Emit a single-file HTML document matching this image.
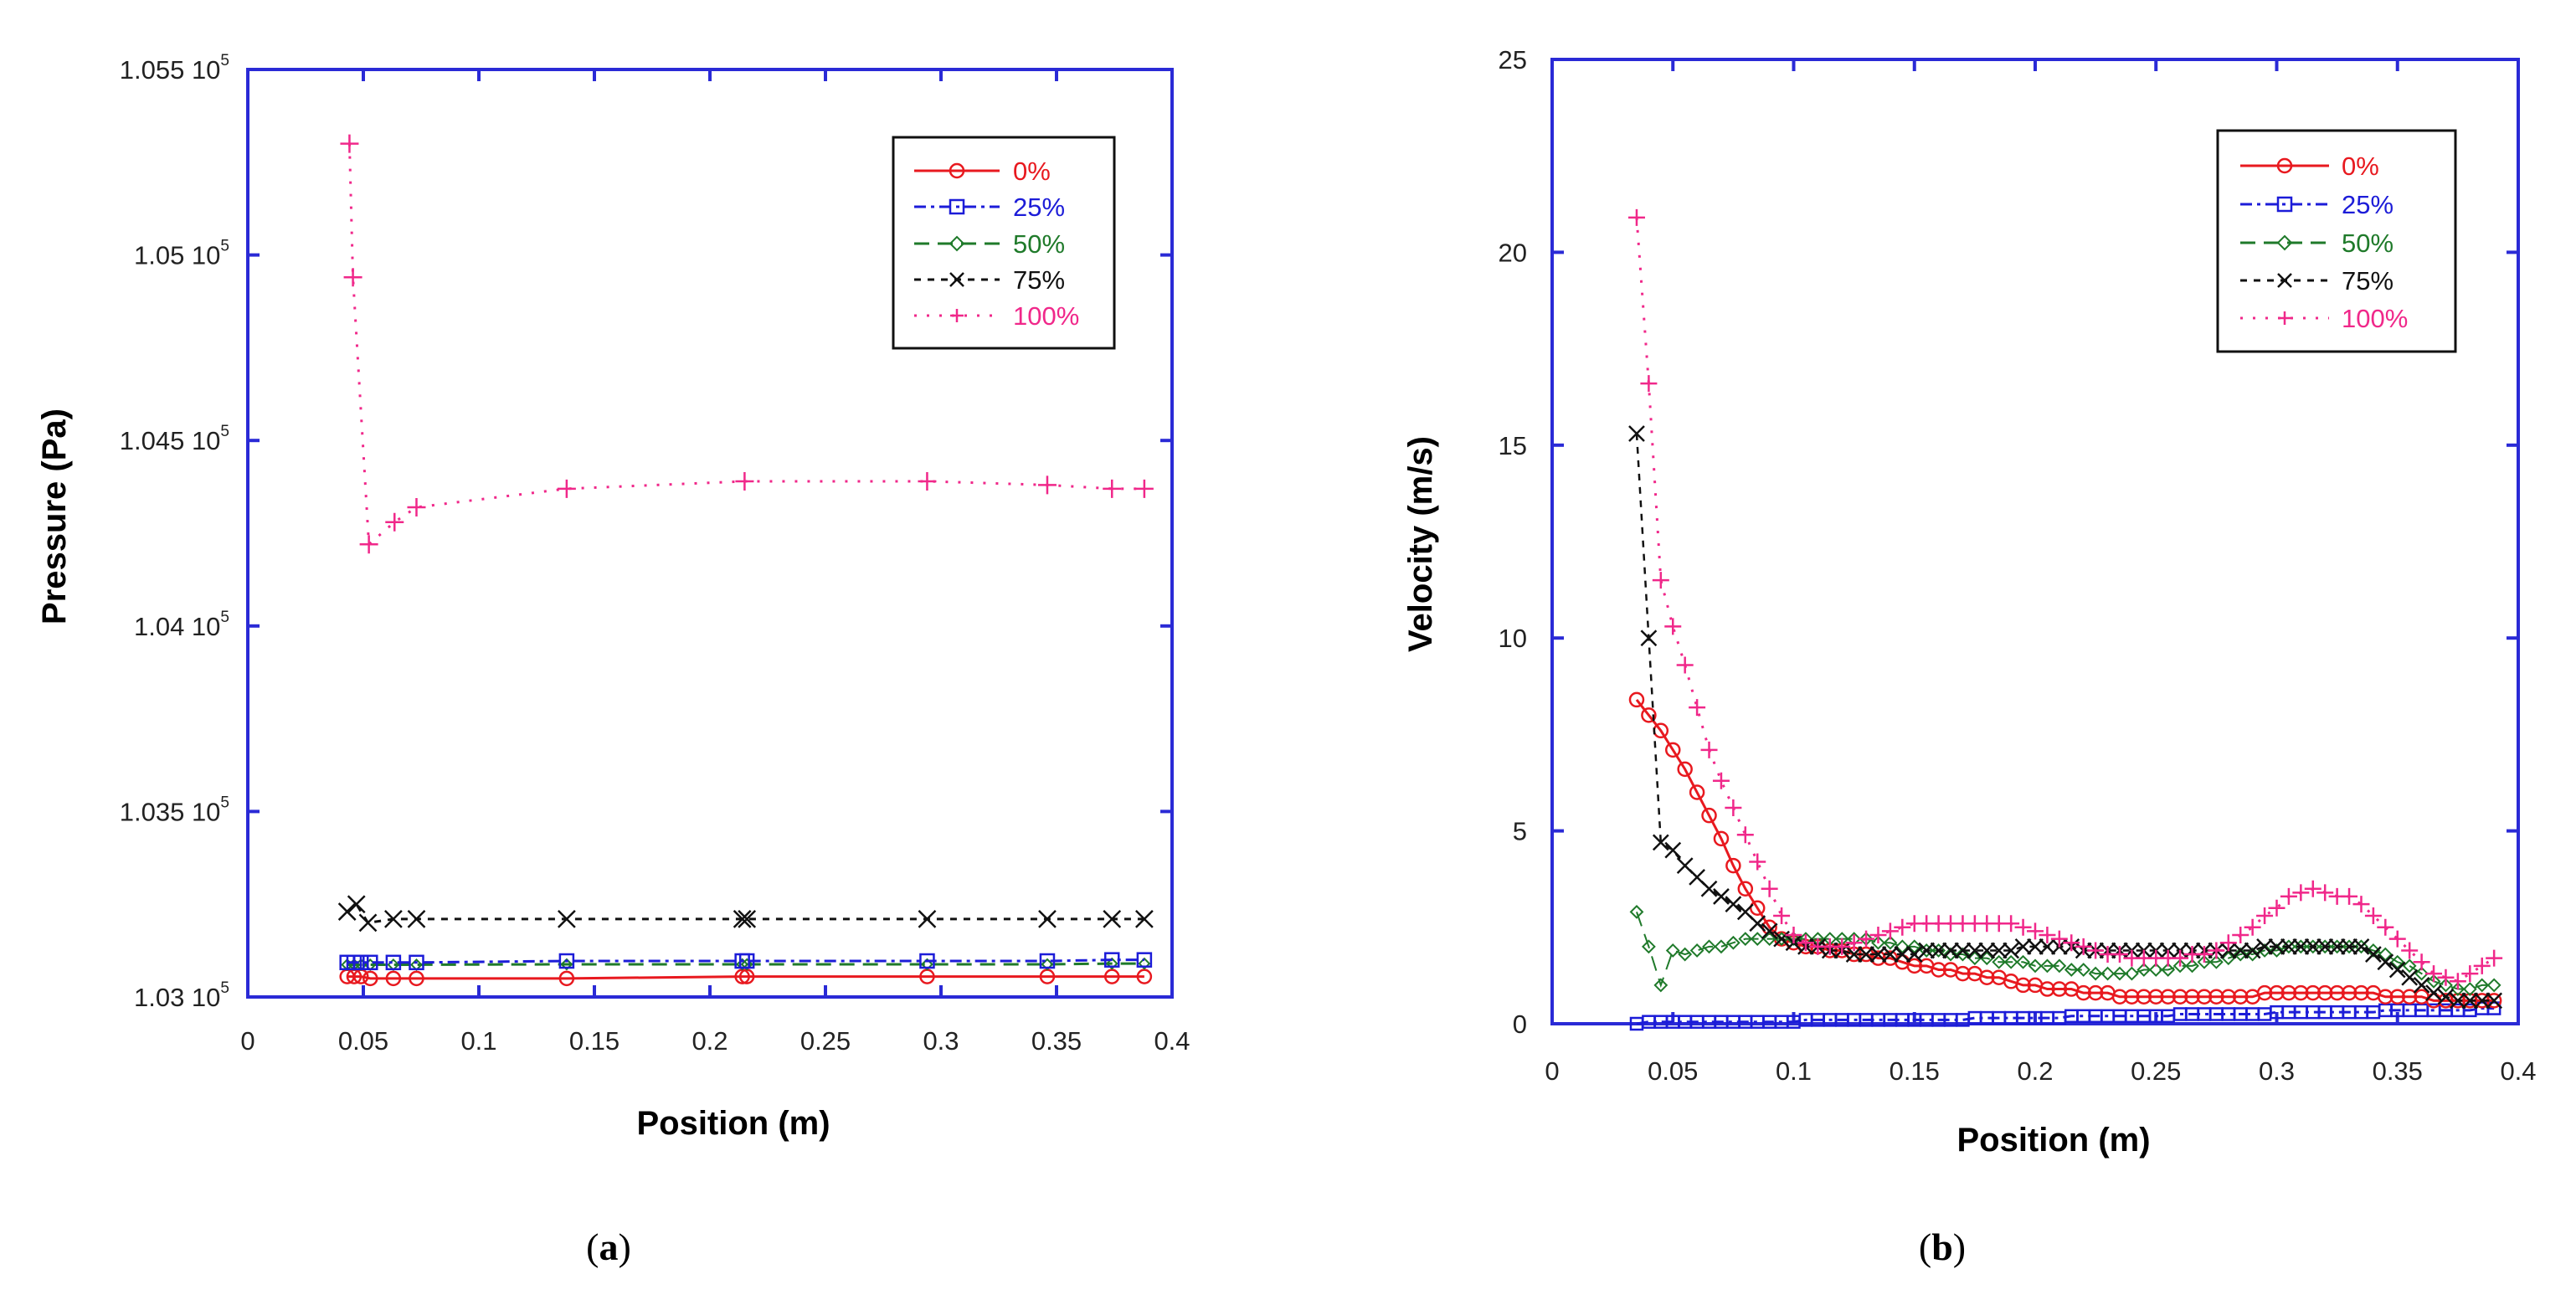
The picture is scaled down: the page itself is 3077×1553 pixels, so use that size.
<!DOCTYPE html>
<html><head><meta charset="utf-8"><style>
html,body{margin:0;padding:0;background:#fff;}
svg{display:block;font-family:"Liberation Sans",Arial,sans-serif;}
</style></head><body>
<svg id="fig" width="3077" height="1553" viewBox="0 0 3077 1553" xmlns="http://www.w3.org/2000/svg">
<g id="chartA"></g>
<g id="chartB"></g>
<text x="727" y="1505" font-family="Liberation Serif,serif" font-size="46" text-anchor="middle">(<tspan font-weight="bold">a</tspan>)</text>
<text x="2320" y="1505" font-family="Liberation Serif,serif" font-size="46" text-anchor="middle">(<tspan font-weight="bold">b</tspan>)</text>
</svg>
<script>
// ---------- Chart A data (pressure, units of 1e5 Pa) ----------
const aTicksX = [0,0.05,0.1,0.15,0.2,0.25,0.3,0.35,0.4];
const aTickLabelsX = ["0","0.05","0.1","0.15","0.2","0.25","0.3","0.35","0.4"];
const aTicksY = [1.03,1.035,1.04,1.045,1.05,1.055];
const aTickLabelsY = ["1.03","1.035","1.04","1.045","1.05","1.055"];
const aX100 = [0.044,0.0455,0.0524,0.0635,0.073,0.138,0.215,0.294,0.346,0.374,0.388];
const aY100 = [1.0530,1.0494,1.0422,1.0428,1.0432,1.0437,1.0439,1.0439,1.0438,1.0437,1.0437];
const aX75 = [0.043,0.047,0.052,0.063,0.073,0.138,0.214,0.216,0.294,0.346,0.374,0.388];
const aY75 = [1.0323,1.0325,1.0320,1.0321,1.0321,1.0321,1.0321,1.0321,1.0321,1.0321,1.0321,1.0321];
const aXlow = [0.043,0.046,0.049,0.053,0.063,0.073,0.138,0.214,0.216,0.294,0.346,0.374,0.388];
const aY25 = [1.03093,1.03093,1.03093,1.03093,1.03093,1.03093,1.03097,1.03097,1.03097,1.03097,1.03097,1.031,1.031];
const aY50 = [1.03087,1.03087,1.03087,1.03087,1.03087,1.03087,1.03088,1.03088,1.03088,1.03088,1.03088,1.0309,1.0309];
const aY0 = [1.03055,1.03055,1.03055,1.0305,1.0305,1.0305,1.0305,1.03055,1.03055,1.03055,1.03055,1.03055,1.03055];

// ---------- Chart B data (velocity m/s) ----------
const bTicksX = [0,0.05,0.1,0.15,0.2,0.25,0.3,0.35,0.4];
const bTickLabelsX = ["0","0.05","0.1","0.15","0.2","0.25","0.3","0.35","0.4"];
const bTicksY = [0,5,10,15,20,25];
const bTickLabelsY = ["0","5","10","15","20","25"];
const bX = [0.035,0.04,0.045,0.05,0.055,0.06,0.065,0.07,0.075,0.08,
0.085,0.09,0.095,0.1,0.105,0.11,0.115,0.12,0.125,0.13,
0.135,0.14,0.145,0.15,0.155,0.16,0.165,0.17,0.175,0.18,
0.185,0.19,0.195,0.2,0.205,0.21,0.215,0.22,0.225,0.23,
0.235,0.24,0.245,0.25,0.255,0.26,0.265,0.27,0.275,0.28,
0.285,0.29,0.295,0.3,0.305,0.31,0.315,0.32,0.325,0.33,
0.335,0.34,0.345,0.35,0.355,0.36,0.365,0.37,0.375,0.38,
0.385,0.39];
const bV0 = [8.4,8.0,7.6,7.1,6.6,6.0,5.4,4.8,4.1,3.5,
3.0,2.5,2.2,2.1,2.0,2.0,1.9,1.9,1.8,1.8,
1.7,1.7,1.6,1.5,1.5,1.4,1.4,1.3,1.3,1.2,
1.2,1.1,1.0,1.0,0.9,0.9,0.9,0.8,0.8,0.8,
0.7,0.7,0.7,0.7,0.7,0.7,0.7,0.7,0.7,0.7,
0.7,0.7,0.8,0.8,0.8,0.8,0.8,0.8,0.8,0.8,
0.8,0.8,0.7,0.7,0.7,0.7,0.6,0.6,0.6,0.6,
0.6,0.6];
const bV25 = [0.0,0.05,0.05,0.05,0.05,0.05,0.05,0.05,0.05,0.05,
0.05,0.05,0.05,0.05,0.1,0.1,0.1,0.1,0.1,0.1,
0.1,0.1,0.1,0.1,0.1,0.1,0.1,0.1,0.15,0.15,
0.15,0.15,0.15,0.15,0.15,0.15,0.2,0.2,0.2,0.2,
0.2,0.2,0.2,0.2,0.2,0.25,0.25,0.25,0.25,0.25,
0.25,0.25,0.25,0.3,0.3,0.3,0.3,0.3,0.3,0.3,
0.3,0.3,0.35,0.35,0.35,0.35,0.35,0.35,0.35,0.35,
0.4,0.4];
const bV50 = [2.9,2.0,1.0,1.9,1.8,1.9,2.0,2.0,2.1,2.2,
2.2,2.2,2.2,2.2,2.2,2.2,2.2,2.2,2.2,2.2,
2.1,2.1,2.0,2.0,1.9,1.9,1.8,1.8,1.7,1.7,
1.6,1.6,1.6,1.5,1.5,1.5,1.4,1.4,1.3,1.3,
1.3,1.3,1.4,1.4,1.4,1.5,1.5,1.6,1.6,1.7,
1.8,1.8,1.9,1.9,2.0,2.0,2.0,2.0,2.0,2.0,
2.0,1.9,1.8,1.6,1.5,1.3,1.1,1.0,0.9,0.9,
1.0,1.0];
const bV75 = [15.3,10.0,4.7,4.5,4.1,3.8,3.5,3.3,3.1,2.9,
2.6,2.4,2.2,2.1,2.0,2.0,1.9,1.9,1.8,1.8,
1.8,1.8,1.8,1.8,1.9,1.9,1.9,1.9,1.9,1.9,
1.9,1.9,2.0,2.0,2.0,2.0,2.0,1.9,1.9,1.9,
1.9,1.9,1.9,1.9,1.9,1.9,1.9,1.9,1.9,1.9,
1.9,1.9,2.0,2.0,2.0,2.0,2.0,2.0,2.0,2.0,
2.0,1.8,1.6,1.4,1.2,1.0,0.8,0.7,0.6,0.6,
0.6,0.6];
const bV100 = [20.9,16.6,11.5,10.3,9.3,8.2,7.1,6.3,5.6,4.9,
4.2,3.5,2.8,2.3,2.1,2.0,2.0,2.0,2.1,2.2,
2.3,2.4,2.5,2.6,2.6,2.6,2.6,2.6,2.6,2.6,
2.6,2.6,2.5,2.4,2.3,2.2,2.1,2.0,1.9,1.8,
1.8,1.7,1.7,1.7,1.7,1.7,1.8,1.8,1.9,2.1,
2.3,2.5,2.8,3.0,3.3,3.4,3.5,3.4,3.3,3.3,
3.1,2.8,2.5,2.2,1.9,1.6,1.3,1.2,1.1,1.3,
1.5,1.7];

const NS = "http://www.w3.org/2000/svg";
function mk(parent, tag, attrs){ const e=document.createElementNS(NS,tag); for(const k in attrs) e.setAttribute(k,attrs[k]); parent.appendChild(e); return e; }

const STY = {
  s0:{c:"#e8191f",dash:"",m:"circle"},
  s25:{c:"#1c1cd8",dash:"14 6 4 6",m:"square"},
  s50:{c:"#1f7a2a",dash:"18 10",m:"diamond"},
  s75:{c:"#111",dash:"8 8",m:"x"},
  s100:{c:"#f0288a",dash:"3 12",m:"plus"}
};

function marker(g, kind, x, y, c, r){
  let e;
  if(kind==="circle") e=mk(g,"circle",{cx:x,cy:y,r:r,fill:"none",stroke:c,"stroke-width":2.5});
  else if(kind==="square") e=mk(g,"rect",{x:x-r,y:y-r,width:2*r,height:2*r,fill:"none",stroke:c,"stroke-width":2.5});
  else if(kind==="diamond") e=mk(g,"path",{d:`M${x} ${y-r}L${x+r} ${y}L${x} ${y+r}L${x-r} ${y}Z`,fill:"none",stroke:c,"stroke-width":2});
  else if(kind==="x") e=mk(g,"path",{d:`M${x-r} ${y-r}L${x+r} ${y+r}M${x-r} ${y+r}L${x+r} ${y-r}`,stroke:c,"stroke-width":2.5});
  else e=mk(g,"path",{d:`M${x-r} ${y}L${x+r} ${y}M${x} ${y-r}L${x} ${y+r}`,stroke:c,"stroke-width":2.5});
  return e;
}

function drawFrame(g, L, R, T, B, xTicks, xLabels, yTicks, yLabels, sx, sy, sup, xlY){
  const fr = mk(g,"rect",{x:L,y:T,width:R-L,height:B-T,fill:"none",stroke:"#2a2ad6","stroke-width":4});
  
  
  xTicks.forEach((v,i)=>{
    const x=sx(v);
    mk(g,"line",{x1:x,y1:B,x2:x,y2:B-14,stroke:"#2a2ad6","stroke-width":4});
    mk(g,"line",{x1:x,y1:T,x2:x,y2:T+14,stroke:"#2a2ad6","stroke-width":4});
    const t=mk(g,"text",{x:x,y:xlY,"font-size":31,"text-anchor":"middle",fill:"#222"});
    t.textContent=xLabels[i];
    
    
  });
  yTicks.forEach((v,i)=>{
    const y=sy(v);
    mk(g,"line",{x1:L,y1:y,x2:L+14,y2:y,stroke:"#2a2ad6","stroke-width":4});
    mk(g,"line",{x1:R,y1:y,x2:R-14,y2:y,stroke:"#2a2ad6","stroke-width":4});
    const t=mk(g,"text",{x:sup?L-22:L-30,y:y+11,"font-size":31,"text-anchor":"end",fill:"#222"});
    if(sup){ t.innerHTML = yLabels[i]+' 10<tspan dy="-16" font-size="19">5</tspan>'; }
    else t.textContent=yLabels[i];
    
    
  });
}

function series(g, name, sty, xs, ys, sx, sy, r, lw){
  const sg=mk(g,"g",{});
  
  
  const pts=xs.map((x,i)=>sx(x)+","+sy(ys[i])).join(" ");
  mk(sg,"polyline",{points:pts,fill:"none",stroke:sty.c,"stroke-width":lw,"stroke-dasharray":sty.dash});
  xs.forEach((x,i)=>{ const m=marker(sg,sty.m,sx(x),sy(ys[i]),sty.c,r);
    
    
  });
}

function legend(g, bx, by, bw, bh, lx0, lx1, tx, rows, r){
  const lg=mk(g,"g",{});
  
  
  mk(lg,"rect",{x:bx,y:by,width:bw,height:bh,fill:"#fff",stroke:"#111","stroke-width":3});
  const labels=["0%","25%","50%","75%","100%"], keys=["s0","s25","s50","s75","s100"];
  keys.forEach((k,i)=>{
    const y=rows[i], s=STY[k];
    const e=mk(lg,"g",{});
    
    
    mk(e,"line",{x1:lx0,y1:y,x2:lx1,y2:y,stroke:s.c,"stroke-width":3,"stroke-dasharray":s.dash});
    marker(e,s.m,(lx0+lx1)/2,y,s.c,r);
    const t=mk(e,"text",{x:tx,y:y+11,"font-size":31,fill:s.c});
    t.textContent=labels[i];
  });
}

// ---------- Chart A ----------
(function(){
  const g=document.getElementById("chartA");
  const L=296,R=1400,T=83,B=1191;
  const sx=v=>L+(v-0)/(0.4)*(R-L);
  const sy=v=>B-(v-1.03)/(0.025)*(B-T);
  drawFrame(g,L,R,T,B,aTicksX,aTickLabelsX,aTicksY,aTickLabelsY,sx,sy,true,1254);
  series(g,"series-0pct",STY.s0,aXlow,aY0,sx,sy,8,3);
  series(g,"series-50pct",STY.s50,aXlow,aY50,sx,sy,6,3);
  series(g,"series-25pct",STY.s25,aXlow,aY25,sx,sy,8,3);
  series(g,"series-75pct",STY.s75,aX75,aY75,sx,sy,10,3);
  series(g,"series-100pct",STY.s100,aX100,aY100,sx,sy,11,3);
  legend(g,1067,164,264,252,1092,1194,1210,[204,247,291,334,377],8);
  const yt=mk(g,"text",{x:0,y:0,"font-size":40,"font-weight":"bold","text-anchor":"middle",transform:"translate(78,617) rotate(-90)"});
  yt.textContent="Pressure (Pa)";
  
  
  const xt=mk(g,"text",{x:876,y:1355,"font-size":40,"font-weight":"bold","text-anchor":"middle"});
  xt.textContent="Position (m)";
  
  
})();

// ---------- Chart B ----------
(function(){
  const g=document.getElementById("chartB");
  const L=1854,R=3008,T=71,B=1223;
  const sx=v=>L+v/0.4*(R-L);
  const sy=v=>B-v/25*(B-T);
  drawFrame(g,L,R,T,B,bTicksX,bTickLabelsX,bTicksY,bTickLabelsY,sx,sy,false,1290);
  series(g,"series-25pct",STY.s25,bX,bV25,sx,sy,7,3);
  series(g,"series-0pct",STY.s0,bX,bV0,sx,sy,8,3);
  series(g,"series-50pct",STY.s50,bX,bV50,sx,sy,7,2);
  series(g,"series-75pct",STY.s75,bX,bV75,sx,sy,9,2.5);
  series(g,"series-100pct",STY.s100,bX,bV100,sx,sy,10,3);
  legend(g,2649,156,284,264,2676,2782,2797,[198,244,290,335,380],8);
  const yt=mk(g,"text",{x:0,y:0,"font-size":40,"font-weight":"bold","text-anchor":"middle",transform:"translate(1710,650) rotate(-90)"});
  yt.textContent="Velocity (m/s)";
  
  
  const xt=mk(g,"text",{x:2453,y:1375,"font-size":40,"font-weight":"bold","text-anchor":"middle"});
  xt.textContent="Position (m)";
  
  
})();
</script>
</body></html>
